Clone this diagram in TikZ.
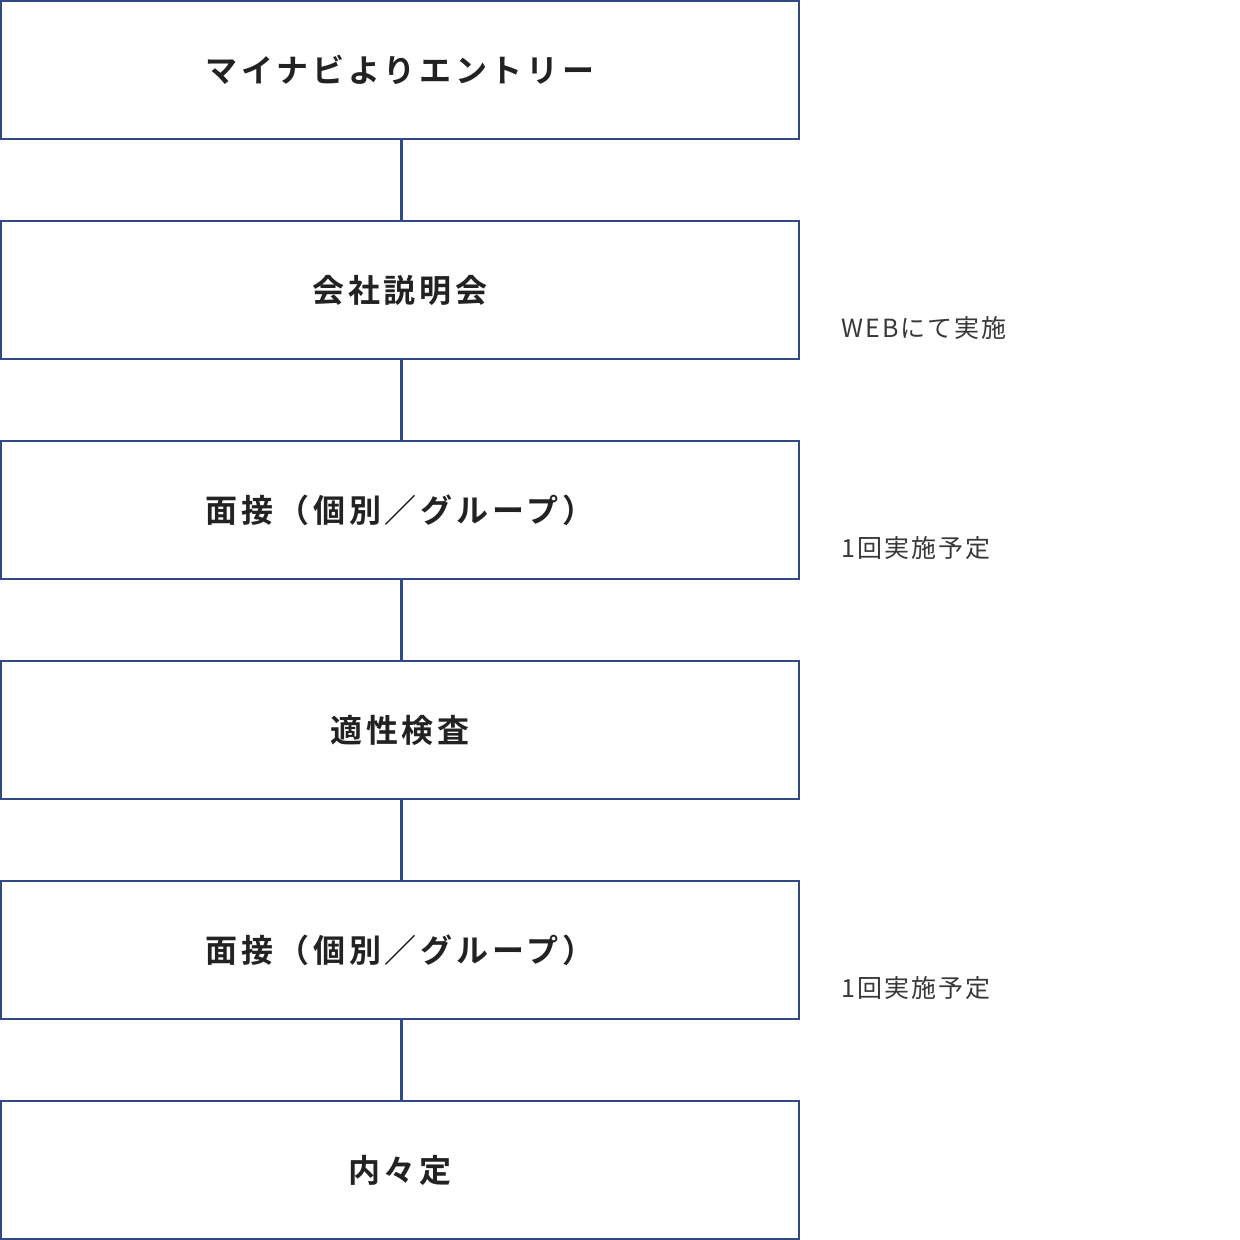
\documentclass[tikz,border=0pt]{standalone}
\usepackage{fontspec}
\newfontfamily\jpb[LetterSpace=12]{Noto Sans CJK JP Bold}
\newfontfamily\jp[LetterSpace=8]{Noto Sans CJK JP}
\definecolor{navy}{HTML}{2F4A85}
\definecolor{txt}{HTML}{222222}
\begin{document}
\begin{tikzpicture}[x=1pt,y=-1pt,
  stepbox/.style={draw=navy,line width=2pt,minimum width=798pt,minimum height=138pt,inner sep=0pt,font=\jpb\fontsize{32}{36}\selectfont,text=txt},
  note/.style={anchor=west,font=\jp\fontsize{25}{30}\selectfont,text=txt!90!white},
  link/.style={navy,line width=3pt}]
\useasboundingbox (0,0) rectangle (1240,1240);
\node[stepbox] (b1) at (400,70) {マイナビよりエントリー};
\node[stepbox] (b2) at (400,290) {会社説明会};
\node[stepbox] (b3) at (400,510) {面接（個別／グループ）};
\node[stepbox] (b4) at (400,730) {適性検査};
\node[stepbox] (b5) at (400,950) {面接（個別／グループ）};
\node[stepbox] (b6) at (400,1170) {内々定};
\foreach \a/\b in {b1/b2,b2/b3,b3/b4,b4/b5,b5/b6} \draw[link] ([xshift=1pt]\a.south) -- ([xshift=1pt]\b.north);
\node[note] (n1) at (838,328) {WEBにて実施};
\node[note] (n2) at (838,548) {1回実施予定};
\node[note] (n3) at (838,988) {1回実施予定};
\end{tikzpicture}
\end{document}
